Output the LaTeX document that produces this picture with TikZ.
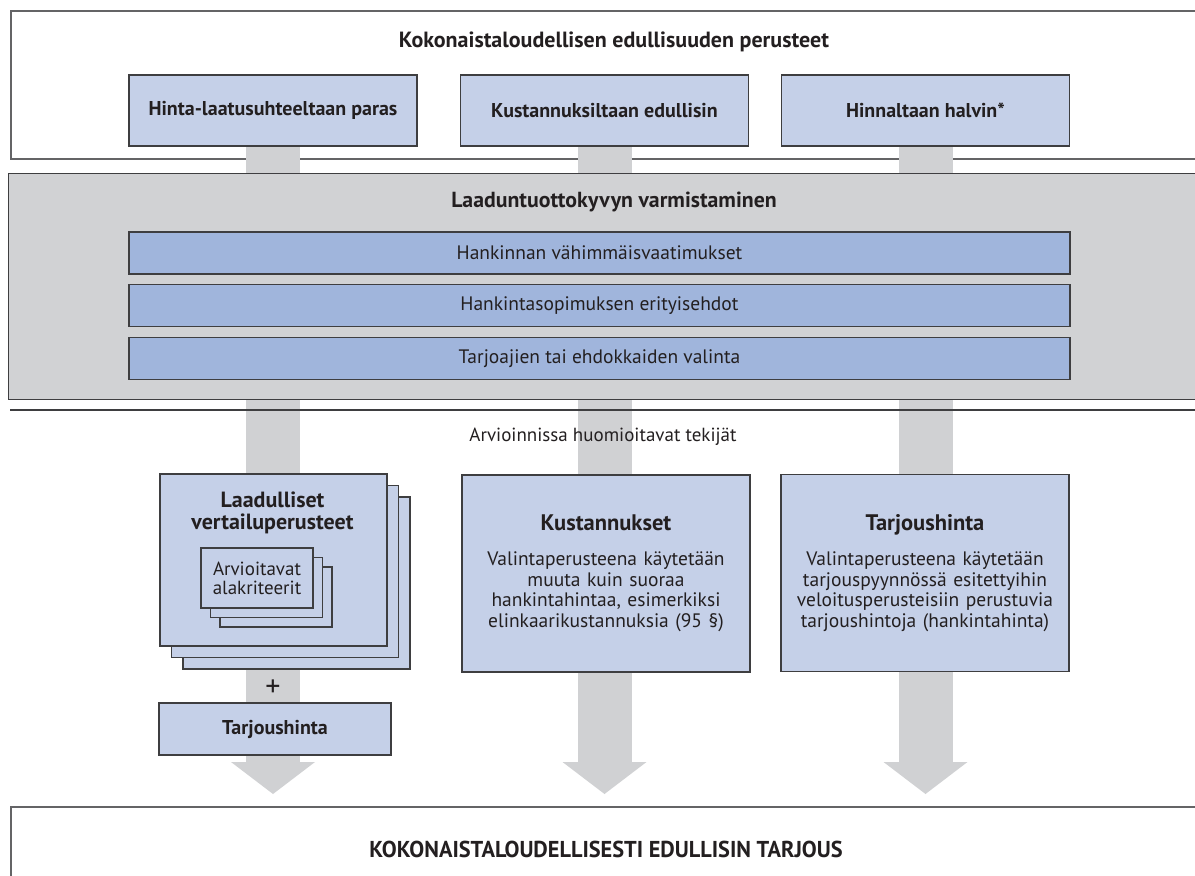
\documentclass[tikz,border=0pt]{standalone}
\usepackage{fontspec}
\setmainfont{PT Sans}
\usetikzlibrary{positioning,calc,shadows,arrows.meta}
\definecolor{lightblue}{RGB}{197,208,232}
\definecolor{midblue}{RGB}{160,181,220}
\definecolor{bandgray}{RGB}{209,210,212}
\definecolor{flowgray}{RGB}{208,209,211}
\definecolor{boxline}{RGB}{62,62,64}
\definecolor{frameline}{RGB}{100,100,102}
\definecolor{ink}{RGB}{35,31,32}
\pgfdeclarelayer{frame}
\pgfdeclarelayer{flows}
\pgfsetlayers{frame,flows,main}
\tikzset{
	critbox/.style={draw=boxline,fill=lightblue,line width=1.3pt,minimum width=288pt,minimum height=71pt,inner sep=0pt,font=\bfseries\fontsize{20}{22}\selectfont},
	reqbar/.style={draw=boxline,fill=midblue,line width=1.3pt,minimum width=941pt,minimum height=42pt,inner sep=0pt,font=\fontsize{19.5}{22}\selectfont},
	factorbox/.style={critbox,minimum height=197pt,align=center,text width=286pt,font=\fontsize{19.5}{20.5}\selectfont},
	frame/.style={draw=frameline,line width=2pt,minimum width=1200pt,inner sep=0pt,anchor=north west},
	stack/.style={copy shadow={shadow xshift=2*#1,shadow yshift=-2*#1,fill=lightblue,draw=boxline,line width=1.3pt},copy shadow={shadow xshift=#1,shadow yshift=-#1,fill=lightblue,draw=boxline,line width=1.3pt}},
	flow/.style={flowgray,line width=54pt,-{Triangle[length=32pt,width=84pt,line width=0pt]},shorten >=12pt},
}
\begin{document}
\begin{tikzpicture}[x=1pt,y=-1pt,text=ink]
	\useasboundingbox (0,0) rectangle (1195,876);
	\clip (0,0) rectangle (1195,876);
	\begin{pgfonlayer}{frame}
		\node[frame,fill=white,minimum height=148pt] (basis) at (10,10) {};
	\end{pgfonlayer}
	\node[font=\bfseries\fontsize{22}{24}\selectfont] (basistitle) at (614,42) {Kokonaistaloudellisen edullisuuden perusteet};
	\node[critbox] (pq) at (273,110.5) {Hinta-laatusuhteeltaan paras};
	\node[critbox] (cost) at (604.5,110.5) {Kustannuksiltaan edullisin};
	\node[critbox] (price) at (925.5,110.5) {Hinnaltaan halvin*};
	
	\node[frame,draw=boxline,line width=1.3pt,fill=bandgray,minimum width=1210pt,minimum height=226pt] (band) at (8,173) {};
	\node[font=\bfseries\fontsize{21.8}{24}\selectfont] (bandtitle) at (614,202) {Laaduntuottokyvyn varmistaminen};
	\node[reqbar] (minreq) at (599.5,253) {Hankinnan vähimmäisvaatimukset};
	\node[reqbar,below=9.5pt of minreq] (terms) {Hankintasopimuksen erityisehdot};
	\node[reqbar,below=9.5pt of terms] (select) {Tarjoajien tai ehdokkaiden valinta};
	\draw[boxline,line width=1.5pt] (10,410) -- (1195,410);
	\node[font=\fontsize{19}{20}\selectfont] (factors) at (603,437) {Arvioinnissa huomioitavat tekijät};
	
	\node[critbox,stack=11.5pt,minimum width=227pt,minimum height=172pt] (qual) at (273.5,560) {};
	\node[font=\bfseries\fontsize{22}{22}\selectfont,align=center] (qualtitle) at ($(qual.north)+(-1,40)$) {Laadulliset\\vertailuperusteet};
	\node[critbox,stack=9.5pt,font=\fontsize{19}{19}\selectfont,align=center,minimum width=112pt,minimum height=60pt] (sub) at (257,578) {Arvioitavat\\alakriteerit};
	\node[font=\fontsize{30}{30}\selectfont] (plus) at (273,688) {+};
	\node[critbox,minimum width=232pt,minimum height=52pt] (bid) at (275,729) {Tarjoushinta};
	\node[factorbox] (costfac) at (606,573.5) {{\bfseries\fontsize{22.5}{22}\selectfont Kustannukset}\\[14.5pt]Valintaperusteena käytetään\\muuta kuin suoraa\\hankintahintaa, esimerkiksi\\elinkaarikustannuksia (95~§)};
	\node[factorbox] (pricefac) at (925,573) {{\bfseries\fontsize{22.5}{22}\selectfont Tarjoushinta}\\[14.5pt]Valintaperusteena käytetään\\tarjouspyynnössä esitettyihin\\veloitusperusteisiin perustuvia\\tarjoushintoja (hankintahinta)};
	
	\node[frame,minimum height=100pt] (offer) at (10,806) {};
	\node[font=\bfseries\fontsize{23}{24}\selectfont] (offertitle) at (606,849) {\scalebox{0.97}[1]{KOKONAISTALOUDELLISESTI EDULLISIN TARJOUS}};
	
	\begin{pgfonlayer}{flows}
		\draw[flow] (pq.south) -- (pq.south |- offer.north);
		\draw[flow] (cost.south) -- (cost.south |- offer.north);
		\draw[flow] (price.south) -- (price.south |- offer.north);
	\end{pgfonlayer}
\end{tikzpicture}
\end{document}
